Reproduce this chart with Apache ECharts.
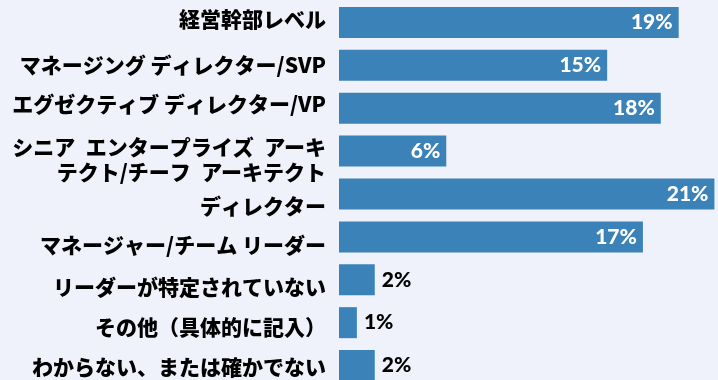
<!DOCTYPE html>
<html>
<head>
<meta charset="utf-8">
<script src="https://cdn.jsdelivr.net/npm/echarts@6/dist/echarts.min.js"></script>
<style>
  html, body { margin: 0; padding: 0; background: #eff2fa; }
  #chart { width: 718px; height: 380px; }
</style>
</head>
<body>
<div id="chart"></div>
<script>
// Role categories, top to bottom
const categories = [
  '経営幹部レベル',
  'マネージング ディレクター/SVP',
  'エグゼクティブ ディレクター/VP',
  'シニア\u2002エンタープライズ\u2002アーキ\nテクト/チーフ\u2002アーキテクト',
  'ディレクター',
  'マネージャー/チーム リーダー',
  'リーダーが特定されていない',
  'その他（具体的に記入）',
  'わからない、または確かでない'
];

// Share of respondents, percent
const values = [19, 15, 18, 6, 21, 17, 2, 1, 2];

// Vertical nudge of each category label relative to its bar centre (px)
const labelShift = [-3, 0, -4, 8, 12, 8, 7, 4, 1];

const BAR_COLOR = '#3b82b8';

const rich = {};
labelShift.forEach((d, i) => {
  rich['c' + i] = {
    fontFamily: '"Noto Sans CJK JP"',
    fontWeight: 900,
    fontSize: 21,
    lineHeight: 25,
    color: '#000',
    align: 'right',
    padding: d >= 0 ? [2 * d, 0, 0, 0] : [0, 0, -2 * d, 0]
  };
});

const chart = echarts.init(document.getElementById('chart'), null, { renderer: 'canvas' });

chart.setOption({
  backgroundColor: '#eff2fa',
  animation: false,
  grid: {
    left: 339, top: 1, height: 386, right: 0,
    containLabel: false,
    outerBoundsMode: 'none'
  },
  xAxis: {
    type: 'value',
    min: 0,
    max: 21.2,
    show: false
  },
  yAxis: {
    type: 'category',
    data: categories,
    inverse: true,
    axisLine: { show: false },
    axisTick: { show: false },
    splitLine: { show: false },
    axisLabel: {
      margin: 13,
      formatter: (value, idx) => '{c' + idx + '|' + value + '}',
      rich: rich
    }
  },
  series: [{
    type: 'bar',
    data: values.map(v => ({
      value: v,
      label: v >= 5
        ? { position: 'insideRight', distance: 6, color: '#ffffff' }
        : { position: 'right', distance: 7, color: '#000000' }
    })),
    barWidth: 31,
    itemStyle: { color: BAR_COLOR },
    label: {
      show: true,
      formatter: p => p.value + '%',
      fontFamily: 'Lato',
      fontWeight: 900,
      fontSize: 21
    }
  }]
});
</script>
</body>
</html>
